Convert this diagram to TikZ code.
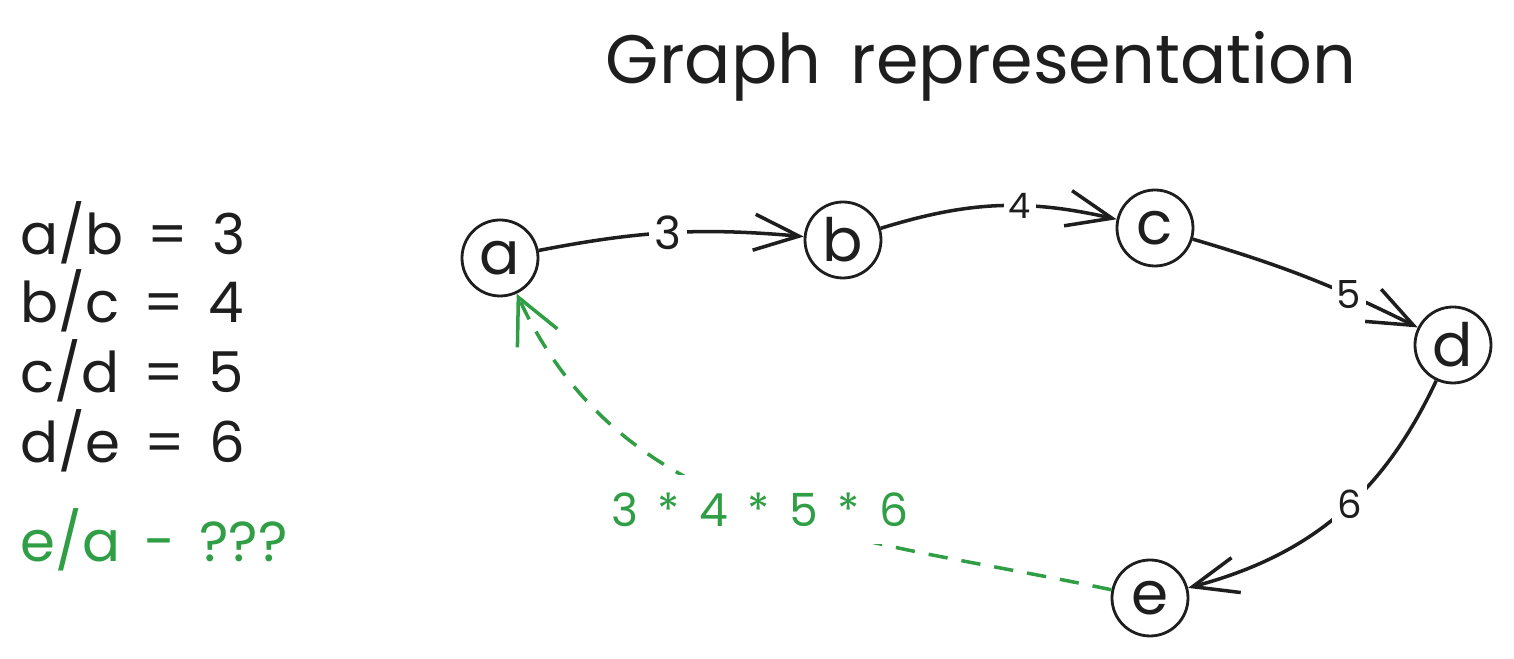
\documentclass[tikz,border=0pt]{standalone}
\usepackage{fontspec}
\setmainfont{Poppins}[WordSpace=1.6]
\usetikzlibrary{arrows.meta}
\definecolor{ink}{HTML}{1E1E1E}
\definecolor{inkgreen}{HTML}{2F9E44}
\tikzset{
  vertex/.style={circle, draw=ink, thick, minimum size=7.6mm, inner sep=0pt,
    text=ink, font=\fontsize{17}{17}\selectfont},
  edge/.style={draw=ink, line width=1pt, -{Straight Barb[length=4.5mm,width=3.6mm]}},
  weight/.style={fill=white, inner sep=1.5pt, text=ink, font=\fontsize{12}{12}\selectfont},
  ratio/.style={anchor=base west, inner sep=0pt, text=ink, font=\fontsize{16}{16}\selectfont},
  guess/.style={draw=inkgreen, line width=1pt, dash pattern=on 5.5pt off 4pt,
    -{Straight Barb[length=4.5mm,width=4.4mm]}}
}
\begin{document}
\begin{tikzpicture}
  \useasboundingbox (0,0) rectangle (15.14,-6.59);
  \node[text=ink, font=\fontsize{19.5}{19.5}\selectfont] (title) at (9.81,-0.66) {Graph representation};

  \node[ratio] (r1) at (0.20,-2.55) {a/b = 3};
  \node[ratio] (r2) at (0.20,-3.23) {b/c = 4};
  \node[ratio] (r3) at (0.20,-3.93) {c/d = 5};
  \node[ratio] (r4) at (0.20,-4.63) {d/e = 6};
  \node[ratio, text=inkgreen] (r5) at (0.20,-5.62) {e/a - ???};

  \node[vertex] (a) at (5.00,-2.58) {a};
  \node[vertex] (b) at (8.43,-2.40) {b};
  \node[vertex] (c) at (11.55,-2.28) {c};
  \node[vertex] (d) at (14.53,-3.45) {d};
  \node[vertex] (e) at (11.50,-5.98) {e};

  \draw[edge] (a) to[bend left=8] node[weight, pos=0.49, font=\fontsize{13}{13}\selectfont] {3} (b);
  \draw[edge] (b) to[bend left=15] node[weight, pos=0.6, font=\fontsize{10}{10}\selectfont] {4} (c);
  \draw[edge] (c) to[bend left=5] node[weight, pos=0.7, font=\fontsize{11}{11}\selectfont] {5} (d);
  \draw[edge] (d) to[bend left=25] node[weight, pos=0.45, font=\fontsize{11}{11}\selectfont] {6} (e);
  \draw[guess] (e) to[out=168, in=-65] node[fill=white, inner sep=5pt, text=inkgreen,
    font=\fontsize{13}{13}\selectfont] (prod) {3 * 4 * 5 * 6} (a);
\end{tikzpicture}
\end{document}
